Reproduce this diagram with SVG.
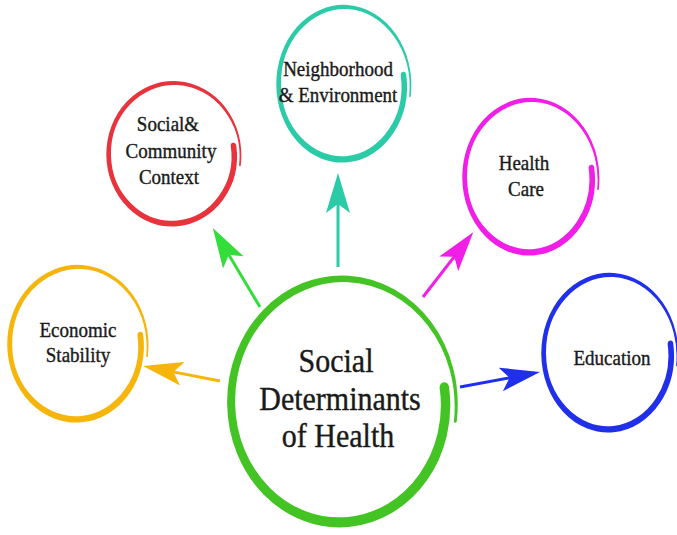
<svg xmlns="http://www.w3.org/2000/svg" xmlns:xlink="http://www.w3.org/1999/xlink" width="677" height="535" viewBox="0 0 677 535">
<style>
text{font-family:"Liberation Serif","Times New Roman",serif;fill:#1a1a1a;stroke:#1a1a1a;stroke-width:0.35px;text-anchor:middle}
.big{font-size:30px}
.sm{font-size:19px}
.conn line{stroke-width:3;fill:none}
</style>
<defs>
<path id="ring" d="M 97.30 -13.68 A 99 99 0 0 1 77.32 62.62 A 100 100 0 0 1 7.02 100.36 A 101 101 0 0 1 -69.33 74.35 A 102 102 0 0 1 -102.6 0 A 103 103 0 0 1 -70.55 -75.66 A 104 104 0 0 1 7.27 -103.95 A 104.5 104.5 0 0 1 81.48 -65.98 A 105 105 0 0 1 104.23 14.65 A 1.25 1.25 0 0 1 101.75 14.30 A 102 102 0 0 0 78.22 -63.34 A 100 100 0 0 0 6.90 -98.56 A 98 98 0 0 0 -66.19 -70.98 A 96 96 0 0 0 -95.4 0 A 94.5 94.5 0 0 0 -64.01 68.64 A 93 93 0 0 0 6.45 92.18 A 91.5 91.5 0 0 0 70.72 57.27 A 90 90 0 0 0 88.88 -12.49 A 4.25 4.25 0 0 1 97.30 -13.68 Z"/>
<path id="head" d="M40,12 L0,0 L9,12 L0,24 Z"/>
<marker id="mGreen" markerUnits="userSpaceOnUse" markerWidth="41" markerHeight="24" refX="12" refY="12" orient="auto"><use href="#head" fill="#33dd3a"/></marker>
<marker id="mTeal" markerUnits="userSpaceOnUse" markerWidth="41" markerHeight="24" refX="12" refY="12" orient="auto"><use href="#head" fill="#2ccba8"/></marker>
<marker id="mPink" markerUnits="userSpaceOnUse" markerWidth="41" markerHeight="24" refX="12" refY="12" orient="auto"><use href="#head" fill="#f01ee6"/></marker>
<marker id="mOrange" markerUnits="userSpaceOnUse" markerWidth="41" markerHeight="24" refX="12" refY="12" orient="auto"><use href="#head" fill="#f5b50a"/></marker>
<marker id="mBlue" markerUnits="userSpaceOnUse" markerWidth="41" markerHeight="24" refX="12" refY="12" orient="auto"><use href="#head" fill="#1f2fea"/></marker>
</defs>
<rect width="677" height="535" fill="#ffffff"/>
<g id="connectors" class="conn">
<line x1="260" y1="307" x2="227.2" y2="252.1" stroke="#33dd3a" marker-end="url(#mGreen)"/>
<line x1="338" y1="267" x2="338" y2="201" stroke="#2ccba8" marker-end="url(#mTeal)"/>
<line x1="423" y1="297" x2="456.1" y2="254.3" stroke="#f01ee6" marker-end="url(#mPink)"/>
<line x1="220" y1="381" x2="170.5" y2="371.4" stroke="#f5b50a" marker-end="url(#mOrange)"/>
<line x1="460" y1="387" x2="512.5" y2="377.2" stroke="#1f2fea" marker-end="url(#mBlue)"/>
</g>
<g id="center">
<use href="#ring" transform="translate(341,403.5) scale(1.11,1.23)" fill="#44c424"/>
<text class="big" transform="translate(336,372) scale(1,1.1)">Social</text>
<text class="big" transform="translate(340,410) scale(1,1.1)">Determinants</text>
<text class="big" transform="translate(338,447) scale(1,1.1)">of Health</text>
</g>
<g id="social-community">
<use href="#ring" transform="translate(173,155) scale(0.65,0.71)" fill="#e8323c"/>
<text class="sm" transform="translate(168,131) scale(1,1.1)">Social&amp;</text>
<text class="sm" transform="translate(171,158) scale(1,1.1)">Community</text>
<text class="sm" transform="translate(169,184) scale(1,1.1)">Context</text>
</g>
<g id="neighborhood">
<use href="#ring" transform="translate(343,85) scale(0.65,0.77)" fill="#2ccba8"/>
<text class="sm" transform="translate(338,76) scale(1,1.1)">Neighborhood</text>
<text class="sm" transform="translate(338,102) scale(1,1.1)">&amp; Environment</text>
</g>
<g id="health-care">
<use href="#ring" transform="translate(530,178) scale(0.66,0.77)" fill="#f01ee6"/>
<text class="sm" transform="translate(524,170) scale(1,1.1)">Health</text>
<text class="sm" transform="translate(526,196) scale(1,1.1)">Care</text>
</g>
<g id="economic">
<use href="#ring" transform="translate(77,345) scale(0.68,0.77)" fill="#f5b50a"/>
<text class="sm" transform="translate(78,337) scale(1,1.1)">Economic</text>
<text class="sm" transform="translate(78,362) scale(1,1.1)">Stability</text>
</g>
<g id="education">
<use href="#ring" transform="translate(609,354) scale(0.66,0.78)" fill="#1f2fea"/>
<text class="sm" transform="translate(612,365) scale(1,1.1)">Education</text>
</g>
</svg>
